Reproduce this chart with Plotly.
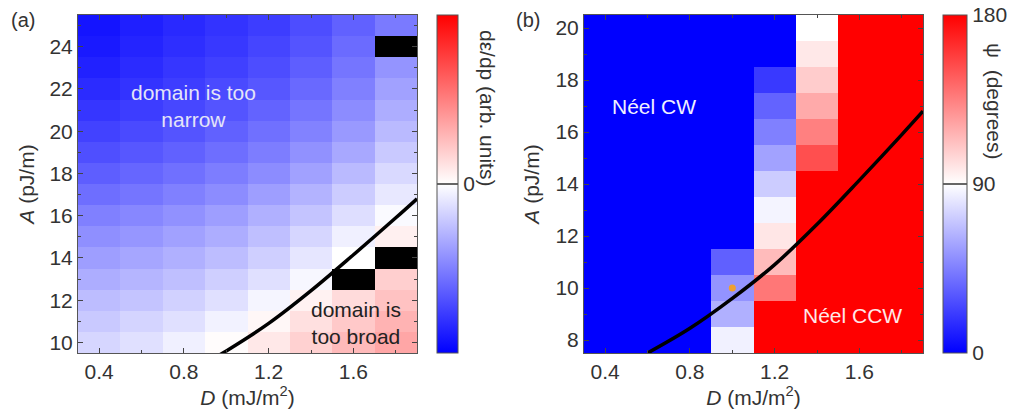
import plotly.graph_objects as go

# ---------------- data ----------------
D_vals = [0.4, 0.6, 0.8, 1.0, 1.2, 1.4, 1.6, 1.8]
A_vals_a = [10, 11, 12, 13, 14, 15, 16, 17, 18, 19, 20, 21, 22, 23, 24, 25]
A_vals_b = [8, 9, 10, 11, 12, 13, 14, 15, 16, 17, 18, 19, 20]
nan = float("nan")

# panel (a): d(eps)/dp, arbitrary units (rows: A = 10 ... 25)
deps_dp = [
    [-0.16, -0.12, -0.06, 0.01, 0.09, 0.18, 0.27, 0.35],
    [-0.21, -0.17, -0.12, -0.05, 0.03, 0.12, 0.21, 0.30],
    [-0.26, -0.23, -0.18, -0.12, -0.04, 0.05, 0.14, 0.24],
    [-0.32, -0.29, -0.25, -0.19, -0.12, -0.03, nan, 0.19],
    [-0.38, -0.35, -0.31, -0.26, -0.19, -0.10, 0.00, nan],
    [-0.44, -0.41, -0.37, -0.32, -0.25, -0.16, -0.06, 0.06],
    [-0.50, -0.47, -0.43, -0.38, -0.31, -0.23, -0.13, -0.02],
    [-0.57, -0.54, -0.50, -0.45, -0.38, -0.30, -0.20, -0.09],
    [-0.63, -0.60, -0.56, -0.51, -0.45, -0.37, -0.27, -0.15],
    [-0.69, -0.66, -0.62, -0.57, -0.51, -0.43, -0.34, -0.21],
    [-0.74, -0.71, -0.67, -0.62, -0.56, -0.49, -0.40, -0.27],
    [-0.79, -0.76, -0.72, -0.67, -0.61, -0.54, -0.45, -0.32],
    [-0.83, -0.80, -0.76, -0.71, -0.66, -0.59, -0.50, -0.37],
    [-0.87, -0.83, -0.79, -0.75, -0.70, -0.63, -0.54, -0.42],
    [-0.90, -0.86, -0.82, -0.78, -0.73, -0.67, -0.58, nan],
    [-0.92, -0.88, -0.84, -0.80, -0.76, -0.70, -0.62, -0.52],
]

# panel (b): psi in degrees (rows: A = 8 ... 20)
psi_deg = [
    [0, 0, 0, 85, 180, 180, 180, 180],
    [0, 0, 0, 62, 180, 180, 180, 180],
    [0, 0, 0, 52, 138, 180, 180, 180],
    [0, 0, 0, 34, 114, 180, 180, 180],
    [0, 0, 0, 0, 99, 180, 180, 180],
    [0, 0, 0, 0, 86, 180, 180, 180],
    [0, 0, 0, 0, 72, 180, 180, 180],
    [0, 0, 0, 0, 57, 152, 180, 180],
    [0, 0, 0, 0, 45, 135, 180, 180],
    [0, 0, 0, 0, 35, 120, 180, 180],
    [0, 0, 0, 0, 20, 108, 180, 180],
    [0, 0, 0, 0, 0, 98, 180, 180],
    [0, 0, 0, 0, 0, 90, 180, 180],
]

# boundary curve
curve_D = [0.6, 0.8, 1.0, 1.2, 1.4, 1.6, 1.8, 1.9]
curve_A = [7.5, 8.45, 9.6, 10.9, 12.45, 14.15, 15.9, 16.8]

# marked point in (b)
dot_D = [1.0]
dot_A = [10.0]

# ---------------- layout helpers ----------------
W, H = 1010, 416
ML, MR, MT, MB = 78, 87, 15, 63
PW, PH = W - ML - MR, H - MT - MB


def px(x):
    return (x - ML) / PW


def py(y):
    return (H - MB - y) / PH


FONT = "Liberation Sans, Arial, Helvetica, sans-serif"
FS = 21
TXT = "#333333"
bwr = [[0, "rgb(0,0,255)"], [0.5, "rgb(255,255,255)"], [1, "rgb(255,0,0)"]]

fig = go.Figure()

fig.add_trace(go.Heatmap(
    x=D_vals, y=A_vals_a, z=deps_dp, colorscale=bwr, zmin=-1, zmax=1,
    xaxis="x", yaxis="y", hoverongaps=False,
    colorbar=dict(
        x=px(437), xanchor="left", xpad=0, y=0.5, yanchor="middle", ypad=0,
        len=1, lenmode="fraction", thickness=21, thicknessmode="pixels",
        outlinecolor="#555", outlinewidth=1,
        tickvals=[0], ticktext=["0"], ticks="inside", ticklen=21,
        tickcolor="#666", tickwidth=1.5,
        tickfont=dict(family=FONT, size=FS, color=TXT),
    ),
))
fig.add_trace(go.Scatter(
    x=curve_D, y=curve_A, mode="lines", line=dict(color="black", width=3.5, shape="spline"),
    xaxis="x", yaxis="y", showlegend=False, hoverinfo="skip",
))

fig.add_trace(go.Heatmap(
    x=D_vals, y=A_vals_b, z=psi_deg, colorscale=bwr, zmin=0, zmax=180,
    xaxis="x2", yaxis="y2",
    colorbar=dict(
        x=px(943), xanchor="left", xpad=0, y=0.5, yanchor="middle", ypad=0,
        len=1, lenmode="fraction", thickness=24, thicknessmode="pixels",
        outlinecolor="#555", outlinewidth=1,
        tickvals=[0, 90, 180], ticktext=["0", "90", "180"], ticks="inside", ticklen=24,
        tickcolor="#666", tickwidth=1.5,
        tickfont=dict(family=FONT, size=FS, color=TXT),
    ),
))
fig.add_trace(go.Scatter(
    x=curve_D, y=curve_A, mode="lines", line=dict(color="black", width=3.5, shape="spline"),
    xaxis="x2", yaxis="y2", showlegend=False, hoverinfo="skip",
))
fig.add_trace(go.Scatter(
    x=dot_D, y=dot_A, mode="markers", marker=dict(color="#f0a030", size=7),
    xaxis="x2", yaxis="y2", showlegend=False,
))

axis_common = dict(
    showgrid=False, zeroline=False, showline=True, linecolor="#555", linewidth=1,
    mirror="allticks", ticks="inside", ticklen=5, tickcolor="#444",
    tickfont=dict(family=FONT, size=FS, color=TXT),
    title_font=dict(family=FONT, size=FS, color=TXT),
)
xtitle = "<i>D</i> (mJ/m<sup>2</sup>)"
ytitle = "<i>A</i> (pJ/m)"

fig.update_layout(
    width=W, height=H,
    margin=dict(l=ML, r=MR, t=MT, b=MB, autoexpand=False),
    paper_bgcolor="white", plot_bgcolor="black",
    showlegend=False,
    font=dict(family=FONT, size=FS, color=TXT),
    xaxis=dict(axis_common, domain=[0, px(417)], range=[0.3, 1.9], tickvals=[0.4, 0.8, 1.2, 1.6],
               ticktext=["0.4", "0.8", "1.2", "1.6"], minor=dict(dtick=0.2, tick0=0.4, ticks="inside", ticklen=3, tickcolor="#444"),
               anchor="y", title=dict(text=xtitle, standoff=6)),
    yaxis=dict(axis_common, domain=[0, 1], range=[9.5, 25.5], tickvals=[10, 12, 14, 16, 18, 20, 22, 24],
               minor=dict(dtick=1, tick0=9, ticks="inside", ticklen=3, tickcolor="#444"),
               anchor="x", title=dict(text=ytitle, standoff=9)),
    xaxis2=dict(axis_common, domain=[px(584), 1], range=[0.3, 1.9], tickvals=[0.4, 0.8, 1.2, 1.6],
                ticktext=["0.4", "0.8", "1.2", "1.6"], minor=dict(dtick=0.2, tick0=0.4, ticks="inside", ticklen=3, tickcolor="#444"),
                anchor="y2", title=dict(text=xtitle, standoff=6)),
    yaxis2=dict(axis_common, domain=[0, 1], range=[7.5, 20.5], tickvals=[8, 10, 12, 14, 16, 18, 20],
                minor=dict(dtick=1, tick0=7, ticks="inside", ticklen=3, tickcolor="#444"),
                anchor="x2", title=dict(text=ytitle, standoff=10)),
)

ann = [
    dict(text="(a)", x=px(23), y=py(20), color=TXT, size=20),
    dict(text="(b)", x=px(528), y=py(20), color=TXT, size=20),
    dict(text="domain is too<br>narrow", x=px(193), y=py(106), color="rgb(228,228,248)", size=FS),
    dict(text="domain is<br>too broad", x=px(356), y=py(323), color="#222", size=FS),
    dict(text="Néel CW", x=px(654), y=py(107), color="rgb(240,240,255)", size=FS),
    dict(text="Néel CCW", x=px(852), y=py(315), color="rgb(255,232,232)", size=FS),
]
for a in ann:
    fig.add_annotation(text=a["text"], x=a["x"], y=a["y"], xref="paper", yref="paper",
                       showarrow=False, xanchor="center", yanchor="middle",
                       font=dict(family=FONT, size=a["size"], color=a["color"]))

fig.add_annotation(text="dε/dp (arb. units)", x=px(487), y=py(108), xref="paper", yref="paper",
                   showarrow=False, textangle=90, xanchor="center", yanchor="middle",
                   font=dict(family=FONT, size=FS, color=TXT))
fig.add_annotation(text="ψ  (degrees)", x=px(995), y=py(102), xref="paper", yref="paper",
                   showarrow=False, textangle=90, xanchor="center", yanchor="middle",
                   font=dict(family=FONT, size=FS, color=TXT))

fig.write_html("out.html", config={"displayModeBar": False},
               post_script="document.body.style.margin='0px';")
